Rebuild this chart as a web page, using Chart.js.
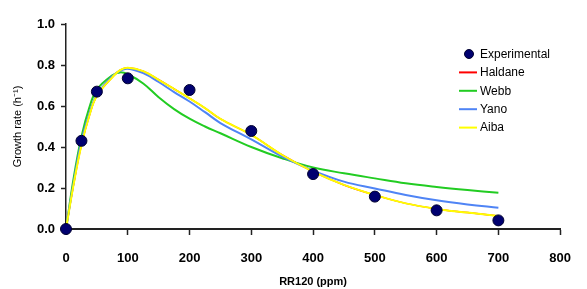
<!DOCTYPE html>
<html>
<head>
<meta charset="utf-8">
<script src="https://cdn.jsdelivr.net/npm/chart.js@4"></script>
<style>
  html, body { margin: 0; padding: 0; background: #fff; }
  #wrap { width: 587px; height: 289px; }
</style>
</head>
<body>
<div id="wrap"><canvas id="growthChart" width="587" height="289"></canvas></div>
<script>
// substrate concentration (ppm)
const expConc = [0, 25, 50, 100, 200, 300, 400, 500, 600, 700];
const expRate = [0.0, 0.43, 0.67, 0.735, 0.678, 0.478, 0.268, 0.158, 0.091, 0.042];

// model curves
const modelConc = [0, 12.5, 25, 37.5, 50, 75, 87.5, 100, 125, 150, 175, 200, 225, 250, 300, 350, 400, 450, 500, 550, 600, 650, 700];
const webbRate  = [0, 0.25, 0.45, 0.59, 0.68, 0.75, 0.764, 0.755, 0.71, 0.643, 0.585, 0.538, 0.50, 0.467, 0.40, 0.345, 0.30, 0.272, 0.247, 0.223, 0.205, 0.19, 0.177];
const yanoRate  = [0, 0.23, 0.43, 0.56, 0.655, 0.745, 0.772, 0.782, 0.76, 0.717, 0.668, 0.622, 0.57, 0.517, 0.437, 0.353, 0.285, 0.231, 0.198, 0.166, 0.14, 0.12, 0.104];
const aibaRate  = [0, 0.22, 0.41, 0.55, 0.65, 0.74, 0.775, 0.787, 0.77, 0.728, 0.683, 0.637, 0.59, 0.537, 0.459, 0.361, 0.28, 0.215, 0.166, 0.125, 0.098, 0.08, 0.063];
const haldaneRate = [0, 0.22, 0.41, 0.55, 0.65, 0.74, 0.775, 0.787, 0.77, 0.728, 0.683, 0.637, 0.59, 0.537, 0.459, 0.361, 0.28, 0.215, 0.166, 0.125, 0.098, 0.08, 0.063];

const xTicks = [0, 100, 200, 300, 400, 500, 600, 700, 800];
const yTicks = [0.0, 0.2, 0.4, 0.6, 0.8, 1.0];

function toPoints(xs, ys) {
  return xs.map((x, i) => ({ x: x, y: ys[i] }));
}

function curve(label, ys, color, width, order) {
  return {
    label: label,
    data: toPoints(modelConc, ys),
    showLine: true,
    borderColor: color,
    backgroundColor: color,
    borderWidth: width,
    pointRadius: 0,
    tension: 0.4,
    order: order,
  };
}

// legend drawn inside the plot, top right
const insideLegend = {
  id: "insideLegend",
  afterDraw(chart) {
    const ctx = chart.ctx;
    const x0 = 459;
    let y = 54;
    ctx.save();
    ctx.font = "12px 'Liberation Sans', Arial, sans-serif";
    ctx.textBaseline = "middle";
    chart.data.datasets.forEach((ds) => {
      if (ds.showLine) {
        ctx.strokeStyle = ds.borderColor;
        ctx.lineWidth = 2;
        ctx.beginPath();
        ctx.moveTo(x0, y);
        ctx.lineTo(x0 + 18, y);
        ctx.stroke();
      } else {
        ctx.fillStyle = ds.backgroundColor;
        ctx.strokeStyle = ds.borderColor;
        ctx.lineWidth = 1;
        ctx.beginPath();
        ctx.arc(x0 + 10, y, 4.5, 0, Math.PI * 2);
        ctx.fill();
        ctx.stroke();
      }
      ctx.fillStyle = "#000";
      ctx.fillText(ds.label, x0 + 21, y + 0.5);
      y += 18.4;
    });
    ctx.restore();
  },
};

const tickFont = { family: "'Liberation Sans', Arial, sans-serif", size: 13, weight: "bold" };

new Chart(document.getElementById("growthChart"), {
  type: "scatter",
  data: {
    datasets: [
      {
        label: "Experimental",
        data: toPoints(expConc, expRate),
        backgroundColor: "#000070",
        borderColor: "#000030",
        borderWidth: 1,
        pointRadius: 5.5,
        pointHoverRadius: 5.5,
        clip: false,
        order: 0,
      },
      curve("Haldane", haldaneRate, "#ff0000", 1.5, 4),
      curve("Webb", webbRate, "#22cc22", 2, 3),
      curve("Yano", yanoRate, "#4f84f5", 2, 2),
      curve("Aiba", aibaRate, "#ffff00", 2, 1),
    ],
  },
  options: {
    responsive: false,
    animation: false,
    events: [],
    layout: { padding: { top: 24, right: 21, left: 0, bottom: 0 } },
    plugins: {
      legend: { display: false },
      tooltip: { enabled: false },
    },
    scales: {
      x: {
        type: "linear",
        min: 0,
        max: 800,
        afterBuildTicks: (scale) => {
          scale.ticks = xTicks.map((v) => ({ value: v }));
        },
        afterFit: (scale) => {
          scale.height = 60;
        },
        border: { display: true, color: "#222", width: 2 },
        grid: { drawOnChartArea: false, drawTicks: true, tickLength: 6, tickColor: "#222", tickWidth: 1.5 },
        ticks: { color: "#000", font: tickFont, padding: 16, maxRotation: 0 },
        title: {
          display: true,
          text: "RR120 (ppm)",
          color: "#000",
          font: { family: "'Liberation Sans', Arial, sans-serif", size: 11, weight: "bold" },
          padding: { top: 0, bottom: 0 },
        },
      },
      y: {
        type: "linear",
        min: 0,
        max: 1.0,
        afterBuildTicks: (scale) => {
          scale.ticks = yTicks.map((v) => ({ value: v }));
        },
        afterFit: (scale) => {
          scale.width = 66;
        },
        border: { display: true, color: "#222", width: 1.5 },
        grid: { drawOnChartArea: false, drawTicks: true, tickLength: 5, tickColor: "#222", tickWidth: 1.5 },
        ticks: {
          color: "#000",
          font: tickFont,
          padding: 6,
          callback: (v) => v.toFixed(1),
        },
        title: {
          display: true,
          text: "Growth rate (h\u207B\u00B9)",
          color: "#000",
          font: { family: "'Liberation Sans', Arial, sans-serif", size: 11 },
          padding: { top: 11, bottom: 0 },
        },
      },
    },
  },
  plugins: [insideLegend],
});
</script>
</body>
</html>
